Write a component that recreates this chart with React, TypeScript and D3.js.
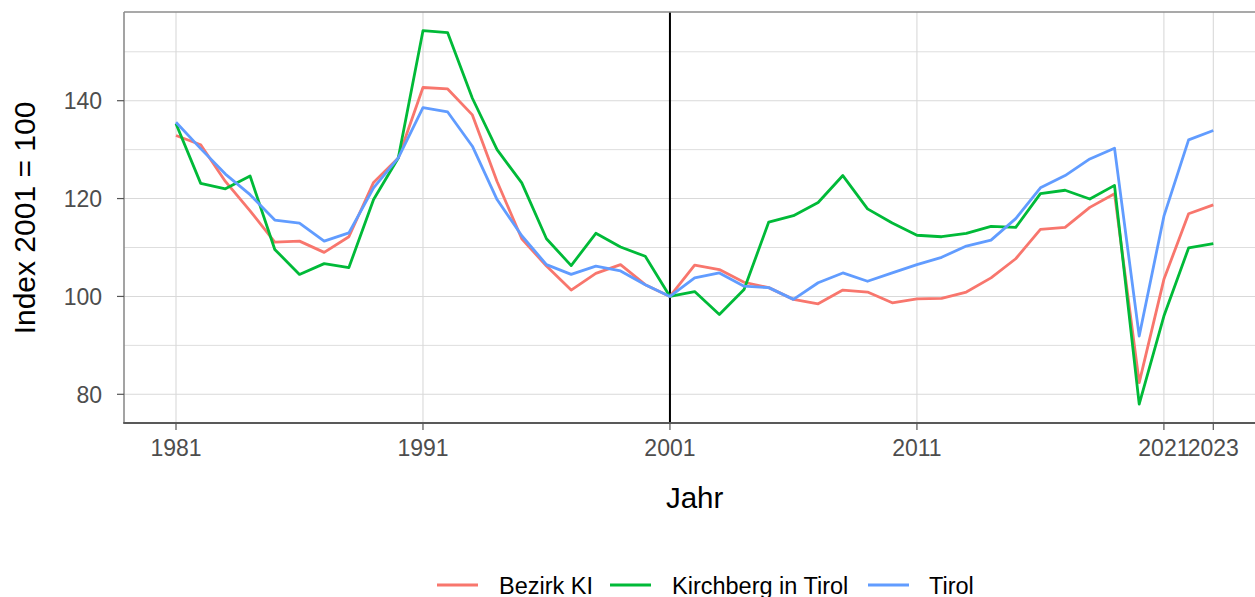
import React from "react";
import * as d3 from "d3";

const years = [
  1981, 1982, 1983, 1984, 1985, 1986, 1987, 1988, 1989, 1990,
  1991, 1992, 1993, 1994, 1995, 1996, 1997, 1998, 1999, 2000,
  2001, 2002, 2003, 2004, 2005, 2006, 2007, 2008, 2009, 2010,
  2011, 2012, 2013, 2014, 2015, 2016, 2017, 2018, 2019, 2020,
  2021, 2022, 2023,
];

const bezirkKI = [
  132.9, 131.0, 123.5, 117.5, 111.1, 111.3, 109.0, 112.2, 123.3, 128.3,
  142.7, 142.4, 137.1, 123.5, 111.8, 106.2, 101.3, 104.7, 106.5, 102.4,
  100.0, 106.4, 105.5, 102.9, 101.8, 99.4, 98.5, 101.3, 100.9, 98.7,
  99.5, 99.6, 100.9, 103.8, 107.7, 113.7, 114.1, 118.2, 121.0, 82.4,
  103.5, 116.9, 118.7,
];

const kirchberg = [
  135.3, 123.1, 122.0, 124.6, 109.6, 104.5, 106.7, 105.9, 119.8, 128.3,
  154.3, 153.9, 140.5, 130.0, 123.2, 111.8, 106.3, 112.9, 110.1, 108.2,
  100.0, 101.0, 96.3, 101.4, 115.2, 116.5, 119.2, 124.7, 117.9, 115.0,
  112.5, 112.2, 112.9, 114.3, 114.1, 121.0, 121.7, 119.9, 122.7, 78.0,
  96.0, 109.9, 110.8,
];

const tirol = [
  135.6, 130.2, 125.0, 120.8, 115.6, 115.0, 111.3, 113.0, 122.2, 128.3,
  138.6, 137.7, 130.7, 119.8, 112.4, 106.5, 104.5, 106.2, 105.2, 102.4,
  100.0, 103.8, 104.8, 102.1, 101.8, 99.4, 102.8, 104.8, 103.1, 104.8,
  106.5, 108.0, 110.3, 111.5, 115.9, 122.2, 124.7, 128.1, 130.3, 91.9,
  116.4, 132.0, 133.9,
];

const seriesNames = ["Bezirk KI", "Kirchberg in Tirol", "Tirol"];
const seriesColors = ["#F8766D", "#00BA38", "#619CFF"];
const xTicks = [1981, 1991, 2001, 2011, 2021, 2023];
const yTicks = [80, 100, 120, 140];
const yMinor = [90, 110, 130, 150];
const refYear = 2001;

const W = 1255;
const H = 597;
const FONT = "'Liberation Sans', Arial, sans-serif";

export default function App() {
  const x = d3.scaleLinear().domain([1981, 2023]).range([176, 1213.3]);
  const y = d3.scaleLinear().domain([80, 140]).range([394.3, 100.7]);
  const left = 124;
  const top = 12;
  const bottom = 423;
  const right = x(2025.1);

  const allSeries = [bezirkKI, kirchberg, tirol];
  const line = d3
    .line<number>()
    .x((_, i) => x(years[i]))
    .y((d) => y(d));

  const legendKeyX = [437, 610, 868];
  const legendTextX = [499, 672, 929];

  return (
    <svg
      width={W}
      height={H}
      style={{ position: "absolute", left: 0, top: 0, background: "#fff" }}
      fontFamily={FONT}
    >
      <rect x={0} y={0} width={W} height={H} fill="#fff" />
      {yMinor.map((v) => (
        <line key={"mn" + v} x1={left} x2={right} y1={y(v)} y2={y(v)} stroke="#dedede" strokeWidth={1} />
      ))}
      {yTicks.map((v) => (
        <line key={"mj" + v} x1={left} x2={right} y1={y(v)} y2={y(v)} stroke="#d9d9d9" strokeWidth={1.1} />
      ))}
      {xTicks.map((v) => (
        <line key={"xg" + v} x1={x(v)} x2={x(v)} y1={top} y2={bottom} stroke="#d9d9d9" strokeWidth={1.1} />
      ))}
      <line x1={x(refYear)} x2={x(refYear)} y1={top} y2={bottom} stroke="#000" strokeWidth={2} />
      {allSeries.map((s, i) => (
        <path
          key={seriesNames[i]}
          d={line(s) || ""}
          fill="none"
          stroke={seriesColors[i]}
          strokeWidth={2.8}
          strokeLinejoin="round"
        />
      ))}
      <line x1={left} x2={right} y1={top} y2={top} stroke="#8c8c8c" strokeWidth={1.6} />
      <line x1={left} x2={left} y1={top} y2={bottom} stroke="#8c8c8c" strokeWidth={1.6} />
      <line x1={left - 0.8} x2={right} y1={bottom} y2={bottom} stroke="#595959" strokeWidth={2.2} />
      {yTicks.map((v) => (
        <g key={"yt" + v}>
          <line x1={left - 7} x2={left} y1={y(v)} y2={y(v)} stroke="#555" strokeWidth={1.2} />
          <text x={102} y={y(v) + 8.5} textAnchor="end" fontSize={23} fill="#4d4d4d">
            {v}
          </text>
        </g>
      ))}
      {xTicks.map((v) => (
        <g key={"xt" + v}>
          <line x1={x(v)} x2={x(v)} y1={bottom} y2={bottom + 7} stroke="#555" strokeWidth={1.2} />
          <text x={x(v)} y={456} textAnchor="middle" fontSize={23} fill="#4d4d4d">
            {v}
          </text>
        </g>
      ))}
      <text x={(left + right) / 2} y={508} textAnchor="middle" fontSize={29.5} fill="#000">
        Jahr
      </text>
      <text
        transform={`translate(35,218) rotate(-90)`}
        textAnchor="middle"
        fontSize={30}
        fill="#000"
      >
        Index 2001 = 100
      </text>
      {seriesNames.map((n, i) => (
        <g key={"lg" + n}>
          <line
            x1={legendKeyX[i]}
            x2={legendKeyX[i] + 41}
            y1={585}
            y2={585}
            stroke={seriesColors[i]}
            strokeWidth={3}
          />
          <text x={legendTextX[i]} y={593.5} fontSize={23.5} fill="#000">
            {n}
          </text>
        </g>
      ))}
    </svg>
  );
}
